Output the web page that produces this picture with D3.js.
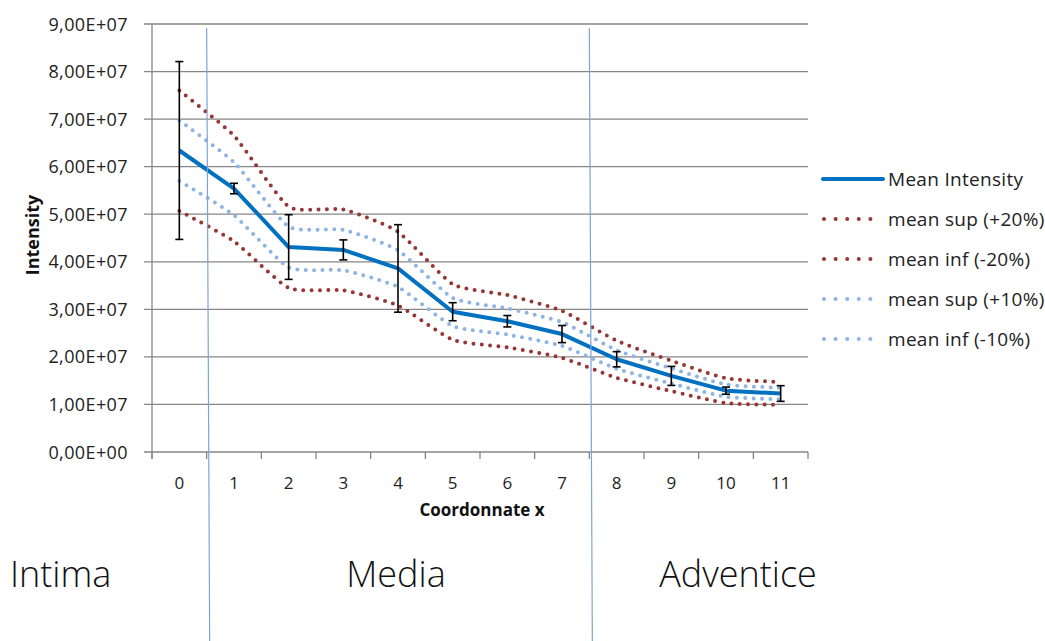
<!DOCTYPE html>
<html>
<head>
<meta charset="utf-8">
<script src="https://cdn.jsdelivr.net/npm/d3@7/dist/d3.min.js"></script>
<style>
  html, body { margin: 0; padding: 0; background: #fff; }
  svg { display: block; font-family: "Open Sans", sans-serif; }
</style>
</head>
<body>
<svg id="chart" width="1045" height="641"></svg>
<script>
// ---- data ----
const categories = [0, 1, 2, 3, 4, 5, 6, 7, 8, 9, 10, 11];
const meanIntensity = [6.34e7, 5.54e7, 4.31e7, 4.25e7, 3.86e7, 2.95e7, 2.75e7, 2.48e7, 1.95e7, 1.60e7, 1.29e7, 1.23e7];
const errorBars     = [1.87e7, 0.11e7, 0.68e7, 0.21e7, 0.92e7, 0.19e7, 0.12e7, 0.18e7, 0.16e7, 0.20e7, 0.075e7, 0.165e7];
const meanSup20 = [7.60e7, 6.65e7, 5.16e7, 5.10e7, 4.63e7, 3.53e7, 3.30e7, 2.97e7, 2.34e7, 1.92e7, 1.55e7, 1.47e7];
const meanInf20 = [5.07e7, 4.43e7, 3.45e7, 3.40e7, 3.08e7, 2.36e7, 2.20e7, 1.98e7, 1.56e7, 1.28e7, 1.03e7, 0.99e7];
const meanSup10 = [6.97e7, 6.09e7, 4.74e7, 4.67e7, 4.24e7, 3.24e7, 3.02e7, 2.73e7, 2.14e7, 1.76e7, 1.42e7, 1.35e7];
const meanInf10 = [5.70e7, 4.98e7, 3.88e7, 3.82e7, 3.47e7, 2.65e7, 2.47e7, 2.23e7, 1.75e7, 1.44e7, 1.16e7, 1.11e7];
const yTicks = [0, 1e7, 2e7, 3e7, 4e7, 5e7, 6e7, 7e7, 8e7, 9e7];
const seriesNames = ["Mean Intensity", "mean sup (+20%)", "mean inf (-20%)", "mean sup (+10%)", "mean inf (-10%)"];
const zoneLabels = ["Intima", "Media", "Adventice"];
const zoneBoundaries = [0.5, 7.5]; // between categories

// ---- layout ----
const svg = d3.select("#chart");
const plot = { left: 152, right: 808, top: 24, bottom: 452 };
const x = d3.scaleBand().domain(categories).range([plot.left, plot.right]).padding(0);
const y = d3.scaleLinear().domain([0, 9e7]).range([plot.bottom, plot.top]);
const cx = d => x(d) + x.bandwidth() / 2;

const gridColor = "#868686";
const red = "#953735";
const lightBlue = "#8DB4E2";
const blue = "#0070C0";

// gridlines
svg.append("g").selectAll("line").data(yTicks).join("line")
  .attr("x1", plot.left - 8).attr("x2", plot.right)
  .attr("y1", d => y(d)).attr("y2", d => y(d))
  .attr("stroke", gridColor).attr("stroke-width", 1.3);

// y axis line
svg.append("line").attr("x1", plot.left).attr("x2", plot.left)
  .attr("y1", plot.top).attr("y2", plot.bottom + 7)
  .attr("stroke", gridColor).attr("stroke-width", 1.3);

// x ticks at category boundaries
const boundaries = categories.map(c => x(c)).concat([plot.right]);
svg.append("g").selectAll("line").data(boundaries).join("line")
  .attr("x1", d => d).attr("x2", d => d)
  .attr("y1", plot.bottom).attr("y2", plot.bottom + 7)
  .attr("stroke", gridColor).attr("stroke-width", 1.3);

// y tick labels
svg.append("g").selectAll("text").data(yTicks).join("text")
  .attr("x", 128).attr("y", d => y(d) + 6.5)
  .attr("text-anchor", "end")
  .attr("font-size", 18).attr("letter-spacing", 0.4).attr("fill", "#222")
  .text(d => {
    const s = d3.format(".2e")(d); // e.g. 9.00e+7
    const [m, e] = s.split("e");
    const sign = e[0];
    const ex = e.slice(1).padStart(2, "0");
    return m.replace(".", ",") + "E" + sign + ex;
  });

// x tick labels
svg.append("g").selectAll("text").data(categories).join("text")
  .attr("x", d => cx(d)).attr("y", 489)
  .attr("text-anchor", "middle")
  .attr("font-size", 17).attr("fill", "#222")
  .text(d => d);

// axis titles
svg.append("text").attr("x", 482).attr("y", 516)
  .attr("text-anchor", "middle").attr("font-size", 17).attr("font-weight", "bold")
  .attr("fill", "#111").text("Coordonnate x");
svg.append("text").attr("transform", "translate(39,235) rotate(-90)")
  .attr("text-anchor", "middle").attr("font-size", 18).attr("font-weight", "bold")
  .attr("fill", "#111").text("Intensity");

// dotted series (smoothed)
const smooth = d3.line().x((d, i) => cx(categories[i])).y(d => y(d)).curve(d3.curveCardinal.tension(0.45));
const dotted = [
  { data: meanSup20, color: red },
  { data: meanInf20, color: red },
  { data: meanSup10, color: lightBlue },
  { data: meanInf10, color: lightBlue }
];
svg.append("g").selectAll("path").data(dotted).join("path")
  .attr("d", d => smooth(d.data))
  .attr("fill", "none").attr("stroke", d => d.color)
  .attr("stroke-width", 4).attr("stroke-linecap", "round")
  .attr("stroke-dasharray", "0 8.3");

// mean line
const straight = d3.line().x((d, i) => cx(categories[i])).y(d => y(d));
svg.append("path").attr("d", straight(meanIntensity))
  .attr("fill", "none").attr("stroke", blue).attr("stroke-width", 4)
  .attr("stroke-linejoin", "round");

// error bars
const eb = svg.append("g").attr("stroke", "#000").attr("stroke-width", 1.6);
categories.forEach((c, i) => {
  const hi = y(meanIntensity[i] + errorBars[i]);
  const lo = y(meanIntensity[i] - errorBars[i]);
  const xc = cx(c);
  eb.append("line").attr("x1", xc).attr("x2", xc).attr("y1", hi).attr("y2", lo);
  eb.append("line").attr("x1", xc - 4).attr("x2", xc + 4).attr("y1", hi).attr("y2", hi);
  eb.append("line").attr("x1", xc - 4).attr("x2", xc + 4).attr("y1", lo).attr("y2", lo);
});

// zone boundary lines (slightly slanted, as drawn in the reference)
svg.append("g").selectAll("line").data(zoneBoundaries).join("line")
  .attr("x1", d => x(Math.ceil(d))).attr("y1", 28)
  .attr("x2", d => x(Math.ceil(d)) + 3).attr("y2", 641)
  .attr("stroke", "#7FA2DA").attr("stroke-width", 1.2);

// zone labels
const zonePos = [{ x: 10, anchor: "start" }, { x: 396, anchor: "middle" }, { x: 738, anchor: "middle" }];
svg.append("g").selectAll("text").data(zoneLabels).join("text")
  .attr("x", (d, i) => zonePos[i].x).attr("y", 587)
  .attr("text-anchor", (d, i) => zonePos[i].anchor)
  .attr("font-size", 36).attr("font-weight", 300).attr("fill", "#111")
  .text(d => d);

// legend
const legendItems = [
  { name: seriesNames[0], color: blue, dash: null },
  { name: seriesNames[1], color: red, dash: "0 11.6" },
  { name: seriesNames[2], color: red, dash: "0 11.6" },
  { name: seriesNames[3], color: lightBlue, dash: "0 11.6" },
  { name: seriesNames[4], color: lightBlue, dash: "0 11.6" }
];
const lg = svg.append("g");
legendItems.forEach((it, i) => {
  const yy = 179 + i * 40;
  const ln = lg.append("line").attr("x1", it.dash ? 824 : 823).attr("x2", it.dash ? 882 : 883)
    .attr("y1", yy).attr("y2", yy)
    .attr("stroke", it.color).attr("stroke-width", 4).attr("stroke-linecap", "round");
  if (it.dash) ln.attr("stroke-dasharray", it.dash);
  lg.append("text").attr("x", 888).attr("y", yy + 7)
    .attr("font-size", 19).attr("letter-spacing", 0.3).attr("fill", "#222").text(it.name);
});
</script>
</body>
</html>
